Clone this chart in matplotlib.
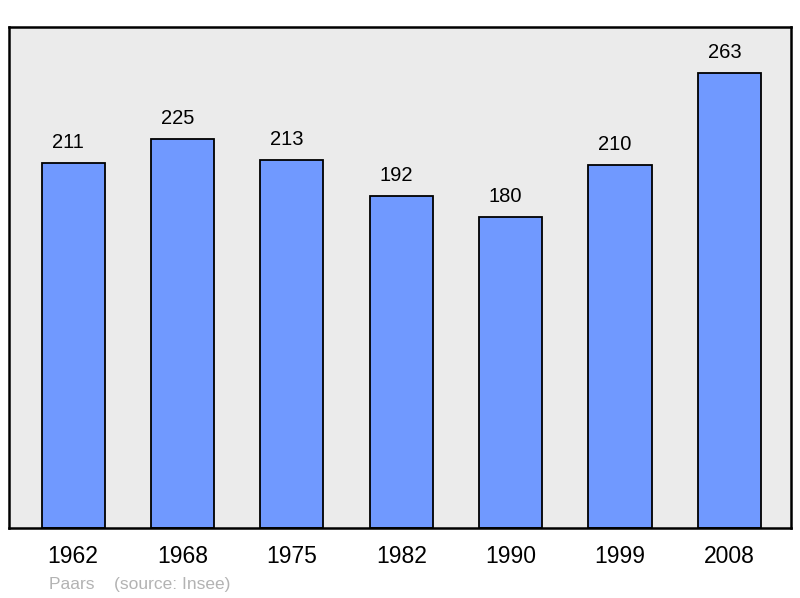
import matplotlib
matplotlib.use("Agg")
import matplotlib.pyplot as plt

years = ["1962", "1968", "1975", "1982", "1990", "1999", "2008"]
population = [211, 225, 213, 192, 180, 210, 263]

plt.rcParams['font.family'] = ['Liberation Sans', 'DejaVu Sans']

W, H = 800, 598
fig = plt.figure(figsize=(W / 100, H / 100), dpi=100)
fig.patch.set_facecolor("white")
ax = fig.add_axes([9 / W, 1 - 528 / H, (791 - 9) / W, (528 - 27) / H])
ax.set_facecolor("#ebebeb")

x = list(range(len(years)))
ax.bar(x, population, width=0.577, color="#7099ff", edgecolor="black", linewidth=1.3, zorder=2)
for xi, v in zip(x, population):
    ax.annotate(str(v), (xi, v), xytext=(-3.6, 10.8), textcoords="offset points",
                ha="center", va="baseline", fontsize=14.5, color="black")

ax.set_xlim(-0.586, 6.563)
ax.set_ylim(0, 289.6)
ax.set_yticks([])
ax.set_xticks(x)
ax.set_xticklabels(years, fontsize=16.5)
ax.tick_params(axis="x", length=0, pad=12)
for s in ax.spines.values():
    s.set_linewidth(1.8)
    s.set_color("black")

fig.text(49 / W, 1 - 584 / H, "Paars    (source: Insee)", fontsize=12.5, color="#b3b3b3",
         ha="left", va="center")

fig.savefig("out.png", dpi=100)
